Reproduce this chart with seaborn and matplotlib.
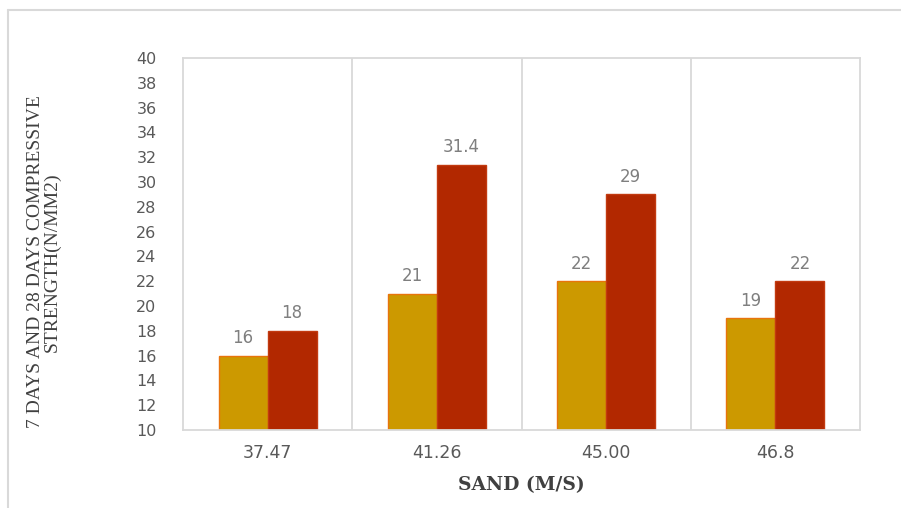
import matplotlib
matplotlib.use("Agg")
import matplotlib.pyplot as plt
import seaborn as sns
import pandas as pd
from matplotlib.lines import Line2D

categories = ["37.47", "41.26", "45.00", "46.8"]
series_names = ["7 Days", "28 Days"]
seven_days = [16, 21, 22, 19]
twenty_eight_days = [18, 31.4, 29, 22]
y_ticks = list(range(10, 41, 2))

df = pd.DataFrame({
    "sand": categories * 2,
    "strength": seven_days + twenty_eight_days,
    "series": [series_names[0]] * 4 + [series_names[1]] * 4,
})

sns.set_theme(style="white")
plt.rcParams["font.family"] = ["DejaVu Sans"]

fig = plt.figure(figsize=(9.01, 5.08), dpi=100)
ax = fig.add_axes([183 / 901, 78 / 508, 677 / 901, 372 / 508])

palette = {"7 Days": "#CC9900", "28 Days": "#B22800"}
sns.barplot(data=df, x="sand", y="strength", hue="series", palette=palette,
            width=0.58, ax=ax, legend=False, saturation=1)

edge_cols = ["#E8740C", "#C23A10"]
for i, cont in enumerate(ax.containers):
    for p in cont:
        p.set_edgecolor(edge_cols[i])
        p.set_linewidth(1.0)
    ax.bar_label(cont, labels=[f"{v:g}" for v in cont.datavalues], padding=6,
                 fontsize=12, color="#7F7F7F")

ax.set_ylim(10, 40)
ax.set_yticks(y_ticks)
ax.set_xlim(-0.5, 3.5)
for xv in [0.5, 1.5, 2.5]:
    ax.axvline(xv, color="#D9D9D9", linewidth=1.3, zorder=0)

for s in ax.spines.values():
    s.set_visible(True)
    s.set_color("#D9D9D9")
    s.set_linewidth(1.3)

ax.tick_params(axis="y", length=0, pad=19, labelsize=11.5, labelcolor="#595959")
ax.tick_params(axis="x", length=0, pad=10, labelsize=12.5, labelcolor="#595959")

ax.set_xlabel("SAND (M/S)", family="DejaVu Serif", fontweight="bold",
              fontsize=13.5, color="#404040", labelpad=10)
ax.set_ylabel("7 DAYS AND 28 DAYS COMPRESSIVE\nSTRENGTH(N/MM2)", family="Liberation Serif",
              fontsize=14, color="#404040", linespacing=0.95)
ax.yaxis.label.set_rotation_mode("default")
ax.yaxis.label.set_va("center")
ax.yaxis.label.set_ha("center")
ax.yaxis.set_label_coords((44 - 183) / 677, (430 - 262) / 372)

# figure frame lines
fig.add_artist(Line2D([8 / 901, 1], [1 - 10 / 508, 1 - 10 / 508], transform=fig.transFigure,
                      color="#D9D9D9", linewidth=1.5))
fig.add_artist(Line2D([8 / 901, 8 / 901], [0, 1 - 10 / 508], transform=fig.transFigure,
                      color="#D9D9D9", linewidth=1.5))

fig.savefig("out.png", dpi=100, facecolor="white")
